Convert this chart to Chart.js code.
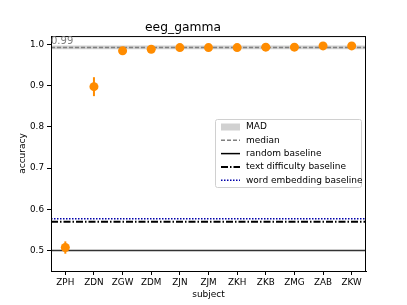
<!DOCTYPE html>
<html><head><meta charset="utf-8">
<script src="https://cdn.jsdelivr.net/npm/chart.js@4/dist/chart.umd.min.js"></script>
<style>html,body{margin:0;padding:0;background:#fff}#wrap{width:407px;height:305px}</style>
</head><body><div id="wrap"><canvas id="c" width="407" height="305"></canvas></div>
<script>
const subjects = ['ZPH','ZDN','ZGW','ZDM','ZJN','ZJM','ZKH','ZKB','ZMG','ZAB','ZKW'];
const accuracy = [0.507,0.898,0.985,0.989,0.993,0.993,0.993,0.994,0.994,0.997,0.997];
const errors   = [0.015,0.023,0.002,0.002,0.002,0.002,0.002,0.002,0.002,0.002,0.002];
const yTicks = [0.5,0.6,0.7,0.8,0.9,1.0];
const medianValue = 0.993;
const madLow = 0.989, madHigh = 0.998;
const randomBaseline = 0.5;
const textDifficultyBaseline = 0.570;
const wordEmbeddingBaseline = 0.577;
const legendLabels = ['MAD','median','random baseline','text difficulty baseline','word embedding baseline'];

const X0 = -0.5, X1 = subjects.length - 0.5;
const hline = v => [{x:X0,y:v},{x:X1,y:v}];
const ORANGE = '#ff8c00';
Chart.defaults.font.family = 'DejaVu Sans';
Chart.defaults.color = '#000';

const extras = {
  id:'extras',
  afterDatasetsDraw(chart){
    const ctx = chart.ctx, xs = chart.scales.x, ys = chart.scales.y;
    ctx.save();
    ctx.strokeStyle = ORANGE; ctx.lineWidth = 2;
    accuracy.forEach((v,i)=>{
      const px = xs.getPixelForValue(i);
      ctx.beginPath();
      ctx.moveTo(px, ys.getPixelForValue(v-errors[i]));
      ctx.lineTo(px, ys.getPixelForValue(v+errors[i]));
      ctx.stroke();
    });
    ctx.restore();
  },
  afterDraw(chart){
    const ctx = chart.ctx, ys = chart.scales.y, a = chart.chartArea;
    ctx.save();
    ctx.strokeStyle = '#000'; ctx.lineWidth = 1;
    ctx.strokeRect(a.left+0.5, a.top+0.5, a.right-a.left-1, a.bottom-a.top);
    ctx.fillStyle = '#808080';
    ctx.font = '10px "DejaVu Sans"';
    ctx.textBaseline = 'alphabetic'; ctx.textAlign = 'left';
    ctx.fillText(medianValue.toFixed(2), a.left, ys.getPixelForValue(medianValue)-3.5);
    const bx = 215.5, by = 119.5, bw = 146, bh = 68;
    ctx.fillStyle = 'rgba(255,255,255,0.8)';
    ctx.strokeStyle = '#d0d0d0';
    ctx.beginPath();
    ctx.roundRect(bx, by, bw, bh, 2);
    ctx.fill(); ctx.stroke();
    const hx0 = 221, hx1 = 240, tx = 246;
    legendLabels.forEach((lab,i)=>{
      const cy = 127 + i*13.3;
      if (i===0){
        ctx.fillStyle = 'rgba(190,190,190,0.7)';
        ctx.fillRect(hx0, cy-3.5, hx1-hx0, 7);
      } else {
        ctx.beginPath();
        ctx.moveTo(hx0, cy); ctx.lineTo(hx1, cy);
        if (i===1){ctx.strokeStyle='#808080'; ctx.lineWidth=1.5; ctx.setLineDash([4,2]);}
        if (i===2){ctx.strokeStyle='#000'; ctx.lineWidth=1.5; ctx.setLineDash([]);}
        if (i===3){ctx.strokeStyle='#000'; ctx.lineWidth=2; ctx.setLineDash([7,2,1.5,2]);}
        if (i===4){ctx.strokeStyle='#0000aa'; ctx.lineWidth=1.5; ctx.setLineDash([1.5,1.5]);}
        ctx.stroke(); ctx.setLineDash([]);
      }
      ctx.fillStyle = '#000';
      ctx.font = '9px "DejaVu Sans"';
      ctx.textBaseline = 'middle';
      ctx.fillText(lab, tx, cy);
    });
    ctx.restore();
  }
};

new Chart(document.getElementById('c'), {
  type:'scatter',
  data:{ datasets:[
    {label:'acc', data: accuracy.map((v,i)=>({x:i,y:v})), backgroundColor:ORANGE, borderColor:ORANGE, pointRadius:4.5, pointBorderWidth:0, order:0},
    {label:'median', type:'line', data:hline(medianValue), borderColor:'#808080', borderWidth:1.5, borderDash:[4,2], pointRadius:0, fill:false, order:1},
    {label:'random', type:'line', data:hline(randomBaseline), borderColor:'#333', borderWidth:1.5, pointRadius:0, fill:false, order:1},
    {label:'text', type:'line', data:hline(textDifficultyBaseline), borderColor:'#000', borderWidth:2, borderDash:[7,2,1.5,2], pointRadius:0, fill:false, order:1},
    {label:'word', type:'line', data:hline(wordEmbeddingBaseline), borderColor:'#0000aa', borderWidth:1.5, borderDash:[1.5,1.5], pointRadius:0, fill:false, order:1},
    {label:'madlo', type:'line', data:hline(madLow), borderWidth:0, borderColor:'rgba(0,0,0,0)', pointRadius:0, fill:false, order:2},
    {label:'madhi', type:'line', data:hline(madHigh), borderWidth:0, borderColor:'rgba(0,0,0,0)', pointRadius:0, fill:'-1', backgroundColor:'rgba(190,190,190,0.7)', order:2}
  ]},
  options:{
    responsive:false, animation:false, maintainAspectRatio:false,
    layout:{padding:{left:0,right:41,top:0,bottom:0}},
    plugins:{
      legend:{display:false}, tooltip:{enabled:false},
      title:{display:true, text:'eeg_gamma', font:{size:12.3, weight:'normal'}, color:'#000', padding:{top:20.2,bottom:1.1}}
    },
    scales:{
      x:{type:'linear', min:X0, max:X1,
        afterBuildTicks(s){ s.ticks = subjects.map((_,i)=>({value:i})); },
        afterFit(s){ s.height = 34; },
        ticks:{autoSkip:false, maxRotation:0, padding:2, font:{size:8.8}, color:'#000', callback:(v)=>subjects[Math.round(v)]},
        grid:{display:true, drawOnChartArea:false, drawTicks:true, tickLength:4, color:'#000'},
        border:{display:true, color:'#000'},
        title:{display:true, text:'subject', font:{size:9}, color:'#000', padding:{top:0,bottom:5}}
      },
      y:{min:0.45, max:1.021,
        afterBuildTicks(s){ s.ticks = yTicks.map(v=>({value:v})); },
        afterFit(s){ s.width = 51; },
        ticks:{padding:3, font:{size:8.8}, color:'#000', callback:(v)=>v.toFixed(1)},
        grid:{display:true, drawOnChartArea:false, drawTicks:true, tickLength:4, color:'#000'},
        border:{display:true, color:'#000'},
        title:{display:true, text:'accuracy', font:{size:9}, color:'#000', padding:{top:17,bottom:0}}
      }
    }
  },
  plugins:[extras]
});
</script></body></html>
